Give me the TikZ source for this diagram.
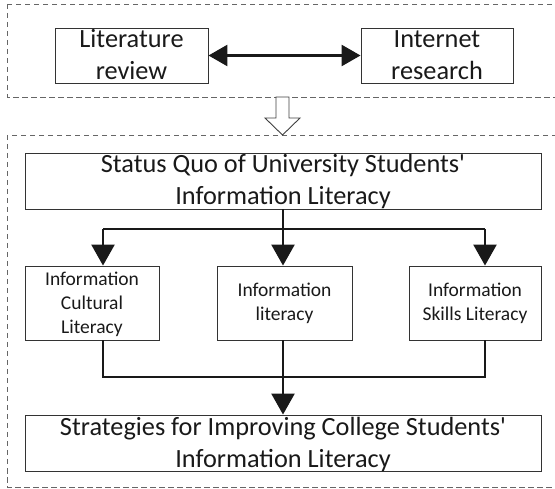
\documentclass[tikz,border=0pt]{standalone}
\usepackage{fontspec}
\setmainfont{Carlito}[Ligatures=TeXOff]
\usetikzlibrary{arrows.meta}
\begin{document}
\begin{tikzpicture}[x=1pt,y=-1pt,
  frame/.style={draw=black!60, dash pattern=on 5.5pt off 3.5pt, line width=0.9pt},
  boxbase/.style={draw=black!80, line width=0.9pt, inner sep=0pt, align=center, text=black!90},
  bigbox/.style={boxbase, font=\fontsize{26.3}{32}\selectfont, minimum height=56pt},
  smallbox/.style={boxbase, font=\fontsize{19.5}{24}\selectfont, minimum height=74pt},
  conn/.style={line width=2.6pt, draw=black!90},
  tip/.style={conn, -{Triangle[width=23pt,length=21pt]}},
  dtip/.style={conn, {Triangle[width=21pt,length=19pt]}-{Triangle[width=21pt,length=19pt]}},
  hollow/.style={draw=black!75, fill=white, line width=0.9pt, line join=miter},
]
\path[use as bounding box] (0,0) rectangle (555,489);
\clip (0,0) rectangle (555,489);

% dashed frames around the two stages
\draw[frame] (7,4) rectangle (560,97);
\draw[frame] (7,135) rectangle (560,487);

% first stage: research methods
\node[bigbox, minimum width=153pt, minimum height=55pt, text height=49pt, text depth=0pt]
  (lit) at (131.5,55.5) {Literature\\review};
\node[bigbox, minimum width=152pt, minimum height=55pt, text height=49pt, text depth=0pt]
  (net) at (437,55.5) {Internet\\research};
\draw[dtip] (lit.east) -- (net.west);

% hollow arrow leading to the second stage
\draw[hollow] (276,97) -- (289,97) -- (289,118) -- (300,118) -- (282.5,135)
  -- (265,118) -- (276,118) -- cycle;

% second stage: analysis
\node[bigbox, minimum width=516pt, text height=48pt, text depth=0pt]
  (status) at (283,181) {Status Quo of University Students'\\Information Literacy};
\node[smallbox, minimum width=134pt, text height=62pt, text depth=0pt]
  (cult) at (92,303) {Information\\Cultural\\Literacy};
\node[smallbox, minimum width=135pt, text height=38pt, text depth=2pt]
  (info) at (284.5,303) {Information\\literacy};
\node[smallbox, minimum width=132pt, text height=38pt, text depth=2pt]
  (skill) at (475,303) {Information\\Skills Literacy};
\node[bigbox, minimum width=516pt, text height=49pt, text depth=0pt]
  (strat) at (283,443) {Strategies for Improving College Students'\\Information Literacy};

% branching connectors
\coordinate (busL) at (103,229);
\coordinate (busR) at (485,229);
\coordinate (joinL) at (103,377);
\coordinate (joinR) at (485,377);
\draw[conn] (busL) -- (busR);
\draw[tip] (status.south) -- (status.south |- info.north);
\draw[tip] (busL) -- (busL |- cult.north);
\draw[tip] (busR) -- (busR |- skill.north);

\draw[conn] (busL |- cult.south) -- (joinL) -- (joinR) -- (busR |- skill.south);
\draw[tip] (status.south |- info.south) -- (strat.north);
\end{tikzpicture}
\end{document}
